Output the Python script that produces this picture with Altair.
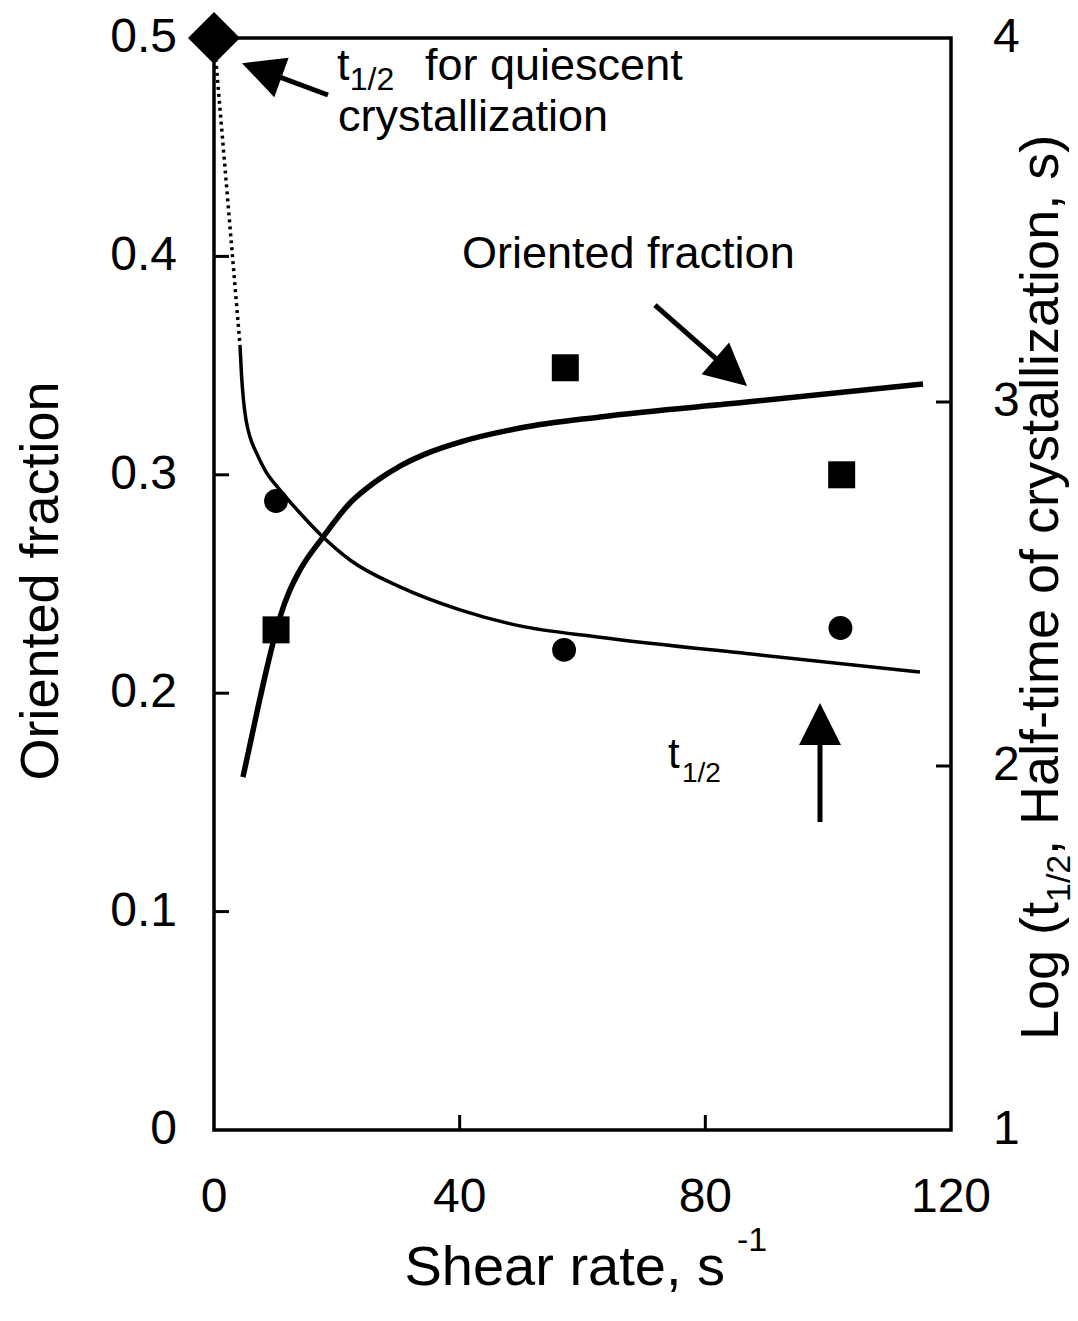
import altair as alt
import pandas as pd

FONT = "Liberation Sans"
W, H = 737, 1092

# Oriented fraction measured at three shear rates (squares, left axis)
sq_shear = [10.1, 57.2, 102.2]
sq_fraction = [0.229, 0.349, 0.300]

# Log of crystallization half-time measured at the same rates (circles, right axis)
ci_shear = [10.1, 57.0, 102.0]
ci_log_t = [2.728, 2.319, 2.379]

# Quiescent crystallization half-time (diamond, right axis)
q_shear = [0.0]
q_log_t = [4.0]

# Model curve for the oriented fraction
fr_shear = [4.72, 7.00, 9.12, 10.75, 12.37, 14.00, 17.75, 22.14, 26.21, 30.28, 35.17, 40.05,
            49.82, 62.85, 86.78, 115.44]
fr_value = [0.1616, 0.1914, 0.2175, 0.2349, 0.2473, 0.2564, 0.2715, 0.2871, 0.2967, 0.3040,
            0.3104, 0.3150, 0.3214, 0.3265, 0.3333, 0.3416]

# Model curve for log half-time
lt_shear = [4.23, 4.48, 4.80, 5.21, 5.86, 6.84, 8.30, 10.75, 14.0, 17.75, 22.14, 30.28, 40.05,
            49.8, 62.85, 88.9, 114.95]
lt_value = [3.157, 3.074, 3.005, 2.951, 2.904, 2.863, 2.813, 2.758, 2.695, 2.629, 2.566, 2.492,
            2.429, 2.385, 2.354, 2.305, 2.258]

# Dotted link from the quiescent point to the model curve
dot_shear = [0.0, 4.23]
dot_log_t = [4.0, 3.157]

# Axis ticks and their labels
x_ticks = [0, 40, 80, 120]
x_tick_labels = ["0", "40", "80", "120"]
yl_ticks = [0, 0.1, 0.2, 0.3, 0.4, 0.5]
yl_tick_labels = ["0", "0.1", "0.2", "0.3", "0.4", "0.5"]
yr_ticks = [1, 2, 3, 4]
yr_tick_labels = ["1", "2", "3", "4"]

# Annotation labels placed in data units of the left axis
note_x = [20.03, 22.1, 34.36, 20.19, 40.38, 73.92, 76.2]
note_y = [0.4808, 0.4762, 0.4808, 0.4574, 0.3947, 0.1658, 0.1593]
note_label = ["t", "1/2", "for quiescent", "crystallization", "Oriented fraction", "t", "1/2"]
note_size = [45, 32, 45, 45, 45, 42, 28]

# Arrows: shaft start -> head centre, head rotation in degrees
arrow_x0 = [18.56, 71.80, 98.67]
arrow_y0 = [0.4739, 0.3777, 0.1410]
arrow_x1 = [7.77, 84.21, 98.67]
arrow_y1 = [0.4852, 0.3470, 0.1859]
arrow_angle = [290, 131, 0]

xs = alt.Scale(domain=[0, 120], nice=False, zero=False)
yls = alt.Scale(domain=[0, 0.5], nice=False, zero=False)
yrs = alt.Scale(domain=[1, 4], nice=False, zero=False)

df_fr = pd.DataFrame({"shear": fr_shear, "value": fr_value})
df_sq = pd.DataFrame({"shear": sq_shear, "value": sq_fraction})
df_lt = pd.DataFrame({"shear": lt_shear, "value": lt_value})
df_ci = pd.DataFrame({"shear": ci_shear, "value": ci_log_t})
df_q = pd.DataFrame({"shear": q_shear, "value": q_log_t})
df_dot = pd.DataFrame({"shear": dot_shear, "value": dot_log_t})
notes = pd.DataFrame({"x": note_x, "y": note_y, "label": note_label, "fs": note_size})
arrows = pd.DataFrame({"x0": arrow_x0, "y0": arrow_y0, "x1": arrow_x1, "y1": arrow_y1,
                       "ang": arrow_angle})


def X(field):
    return alt.X(field, scale=xs, axis=None)


def YL(field):
    return alt.Y(field, scale=yls, axis=None)


def YR(field):
    return alt.Y(field, scale=yrs, axis=None)


# ---- left-axis layers ----
fr_line = alt.Chart(df_fr).mark_line(color="black", strokeWidth=5.5,
                                     interpolate="monotone").encode(
    x=X("shear:Q"), y=YL("value:Q"))
squares = alt.Chart(df_sq).mark_point(shape="square", filled=True, size=729, color="black",
                                      opacity=1).encode(x=X("shear:Q"), y=YL("value:Q"))

left_ticks = alt.Chart(pd.DataFrame({"v": yl_ticks[1:-1]})).mark_rule(
    color="black", strokeWidth=3).encode(y=YL("v:Q"), x=alt.value(0), x2=alt.value(15))
bottom_ticks = alt.Chart(pd.DataFrame({"v": x_ticks[1:-1]})).mark_rule(
    color="black", strokeWidth=3).encode(x=X("v:Q"), y=alt.value(H - 15), y2=alt.value(H))

left_labels = alt.Chart(pd.DataFrame({"v": yl_ticks, "t": yl_tick_labels})).mark_text(
    align="right", baseline="middle", font=FONT, fontSize=48, color="black").encode(
    y=YL("v:Q"), x=alt.value(-37), text="t:N")
bottom_labels = alt.Chart(pd.DataFrame({"v": x_ticks, "t": x_tick_labels})).mark_text(
    align="center", baseline="top", font=FONT, fontSize=48, color="black").encode(
    x=X("v:Q"), y=alt.value(H + 44), text="t:N")

shafts = alt.Chart(arrows).mark_rule(color="black", strokeWidth=5).encode(
    x=X("x0:Q"), x2="x1:Q", y=YL("y0:Q"), y2="y1:Q")
heads = alt.Chart(arrows).mark_point(shape="M0,-1L1,1L-1,1Z", filled=True, size=1764,
                                     color="black", opacity=1, strokeWidth=0).encode(
    x=X("x1:Q"), y=YL("y1:Q"), angle=alt.Angle("ang:Q", scale=None))

note_text = alt.Chart(notes).mark_text(align="left", baseline="alphabetic", font=FONT,
                                       color="black").encode(
    x=X("x:Q"), y=YL("y:Q"), text="label:N", size=alt.Size("fs:Q", scale=None))

one = alt.Data(values=[{}])


def free_text(txt, x, y, fs, align="left", angle=0):
    return alt.Chart(one).mark_text(text=txt, align=align, baseline="alphabetic", font=FONT,
                                    fontSize=fs, color="black", angle=angle).encode(
        x=alt.value(x), y=alt.value(y))


x_title = free_text("Shear rate, s", 511, 1247, 56, align="right")
x_title_sup = free_text("-1", 523, 1213, 34)
yl_title = free_text("Oriented fraction", -156, 543, 54, align="center", angle=270)
yr_title_a = free_text("Log (t", 844, 1002, 54, angle=270)
yr_title_b = free_text("1/2", 856, 864, 34, angle=270)
yr_title_c = free_text(", Half-time of crystallization, s)", 844, 817, 54, angle=270)

left = alt.layer(fr_line, squares, left_ticks, bottom_ticks, left_labels, bottom_labels,
                 shafts, heads, note_text, x_title, x_title_sup, yl_title,
                 yr_title_a, yr_title_b, yr_title_c)

# ---- right-axis layers ----
lt_line = alt.Chart(df_lt).mark_line(color="black", strokeWidth=3.5,
                                     interpolate="monotone").encode(
    x=X("shear:Q"), y=YR("value:Q"))
dotted = alt.Chart(df_dot).mark_line(color="black", strokeWidth=3.5,
                                     strokeDash=[3, 4]).encode(
    x=X("shear:Q"), y=YR("value:Q"))
circles = alt.Chart(df_ci).mark_point(shape="circle", filled=True, size=570, color="black",
                                      opacity=1).encode(x=X("shear:Q"), y=YR("value:Q"))
diamond = alt.Chart(df_q).mark_point(shape="diamond", filled=True, size=2700, color="black",
                                     opacity=1).encode(x=X("shear:Q"), y=YR("value:Q"))
right_ticks = alt.Chart(pd.DataFrame({"v": yr_ticks[1:-1]})).mark_rule(
    color="black", strokeWidth=3).encode(y=YR("v:Q"), x=alt.value(W - 15), x2=alt.value(W))
right_labels = alt.Chart(pd.DataFrame({"v": yr_ticks, "t": yr_tick_labels})).mark_text(
    align="left", baseline="middle", font=FONT, fontSize=48, color="black").encode(
    y=YR("v:Q"), x=alt.value(W + 42), text="t:N")

right = alt.layer(lt_line, dotted, circles, diamond, right_ticks, right_labels)

chart = alt.layer(left, right).resolve_scale(y="independent").properties(
    width=W, height=H,
    padding={"left": 214, "top": 38, "right": 127, "bottom": 191},
    autosize=alt.AutoSizeParams(type="none"),
    background="white",
).configure_view(stroke="black", strokeWidth=3.5)

chart.save("out.html", embed_options={"renderer": "svg", "actions": False})
